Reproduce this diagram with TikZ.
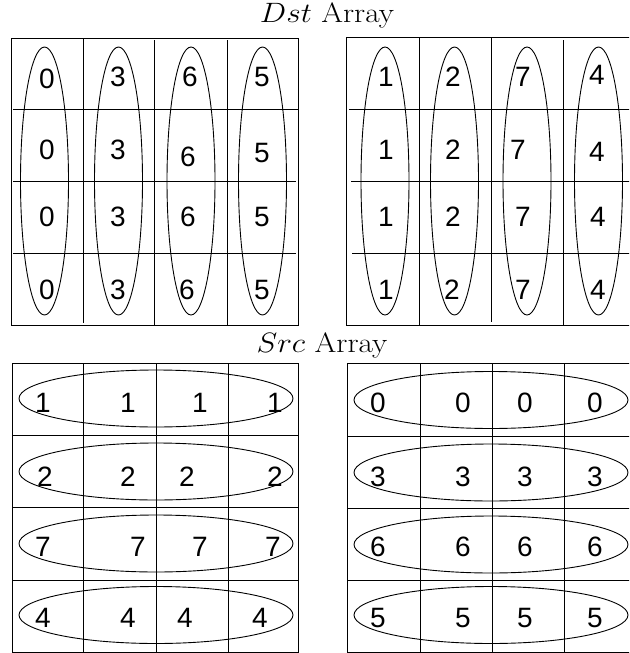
\RequirePackage{fix-cm}
\documentclass[tikz,border=0pt]{standalone}
\usepackage{graphicx}
\usepackage{fontspec}
\newfontfamily\numfont{Liberation Sans}
\newcommand{\ttltext}[1]{\scalebox{1.12}[1]{#1}}
\begin{document}
\begin{tikzpicture}[x=1pt,y=-1pt,line width=0.9pt,
  num/.style={font=\numfont\fontsize{28}{28}\selectfont,inner sep=0pt},
  ttl/.style={font=\fontsize{28}{28}\selectfont,inner sep=0pt,anchor=base}]
\useasboundingbox (0,0) rectangle (629,653);
\clip (0,0) rectangle (629,653);
% titles
\node[ttl] (dst) at (327,23) {\ttltext{$Dst$ Array}};
\node[ttl] (src) at (322,352) {\ttltext{$Src$ Array}};
% top-left grid
\draw (11,38) rectangle (298,325);
\draw (83,38)--(83,323) (154,40)--(154,325) (227,40)--(227,325);
\draw (13,109)--(298,109) (13,181)--(296,181) (13,253)--(296,253);
\foreach \x in {44.5,118.5,191,262.5} \draw (\x,181) ellipse [x radius=24,y radius=134];
% top-right grid
\draw (346,37) rectangle (700,325);
\draw (419,37)--(419,325) (491,37)--(491,322) (563,40)--(563,325);
\draw (349,109)--(700,109) (351,181)--(700,181) (352,253)--(700,253);
\foreach \x in {385,454.5,527,598.5} \draw (\x,181) ellipse [x radius=24,y radius=134];
% bottom-left grid
\draw (12,363) rectangle (298,652);
\draw (83,363)--(83,652) (156,363)--(156,652) (228,363)--(228,652);
\draw (12,435)--(298,435) (12,507)--(298,507) (12,580)--(298,580);
\foreach \y in {398.5,471.5,543.5,615} \draw (156,\y) ellipse [x radius=137,y radius=28.5];
% bottom-right grid
\draw (347,363) rectangle (700,652);
\draw (420,363)--(420,652) (492,363)--(492,652) (564,363)--(564,652);
\draw (347,436)--(700,436) (347,508)--(700,508) (347,580)--(700,580);
\foreach \y in {400,472.5,544.5,615} \draw (491,\y) ellipse [x radius=137,y radius=28.5];
% top-left values
\foreach \n/\x/\y/\t in {a1/47/79/0,a2/47/150/0,a3/47/217/0,a4/47/290/0,
  b1/118/77/3,b2/118/150/3,b3/118/217/3,b4/118/290/3,
  c1/190/77/6,c2/188/157/6,c3/188/217/6,c4/187/290/6,
  d1/262/77/5,d2/262/153/5,d3/262/217/5,d4/262/290/5}
  \node[num] (tl\n) at (\x,\y) {\t};
% top-right values
\foreach \n/\x/\y/\t in {a1/386/77/1,a2/386/150/1,a3/386/217/1,a4/386/290/1,
  b1/453/77/2,b2/453/150/2,b3/453/217/2,b4/452/290/2,
  c1/523/77/7,c2/518/150/7,c3/523/217/7,c4/523/290/7,
  d1/597/75/4,d2/597/152/4,d3/598/217/4,d4/598/290/4}
  \node[num] (tr\n) at (\x,\y) {\t};
% bottom-left values
\foreach \n/\x/\y/\t in {a1/43/403/1,a2/128/403/1,a3/200/403/1,a4/275/403/1,
  b1/45/477/2,b2/128/477/2,b3/187/477/2,b4/275/477/2,
  c1/43/547/7,c2/138/547/7,c3/200/547/7,c4/273/547/7,
  d1/43/618/4,d2/128/618/4,d3/185/618/4,d4/260/618/4}
  \node[num] (bl\n) at (\x,\y) {\t};
% bottom-right values
\foreach \n/\x/\y/\t in {a1/378/403/0,a2/463/403/0,a3/525/403/0,a4/595/403/0,
  b1/378/477/3,b2/463/477/3,b3/525/477/3,b4/595/477/3,
  c1/378/547/6,c2/463/547/6,c3/525/547/6,c4/595/547/6,
  d1/378/618/5,d2/463/618/5,d3/525/618/5,d4/595/618/5}
  \node[num] (br\n) at (\x,\y) {\t};
\end{tikzpicture}
\end{document}
